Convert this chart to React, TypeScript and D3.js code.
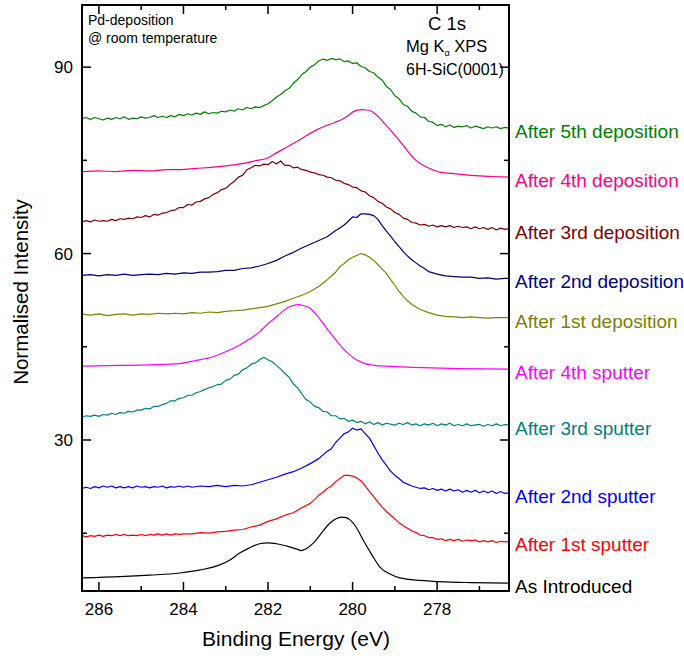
import React from "react";
import * as d3 from "d3";

// C 1s XPS spectra: [binding energy (eV), normalised intensity] per stage
const asIntroduced: [number, number][] = [[286.38,7.8],[285.5,8.0],[284.8,8.25],[284.09,8.6],[283.6,9.1],[283.14,9.9],[282.9,10.7],[282.67,11.8],[282.45,12.6],[282.2,13.3],[282.0,13.45],[281.8,13.3],[281.49,12.8],[281.3,12.4],[281.21,12.2],[281.1,12.5],[280.93,13.4],[280.75,14.9],[280.54,16.6],[280.4,17.3],[280.26,17.6],[280.15,17.5],[280.06,17.15],[279.9,15.8],[279.75,13.9],[279.55,11.6],[279.36,9.6],[279.1,8.4],[278.88,7.8],[278.4,7.4],[277.94,7.2],[277.2,7.05],[276.3,6.97]];
const sputter1: [number, number][] = [[286.4,14.6],[286.3,14.4],[286.2,14.6],[286.1,14.5],[286.0,14.7],[285.9,14.5],[285.8,14.7],[285.7,14.6],[285.6,14.8],[285.5,14.6],[285.4,14.8],[285.3,14.6],[285.2,14.7],[285.1,14.6],[285.0,14.8],[284.9,14.6],[284.8,14.8],[284.7,14.7],[284.6,14.9],[284.5,14.7],[284.4,14.9],[284.3,14.7],[284.2,14.9],[284.1,14.8],[284.0,14.9],[283.8,14.9],[283.6,15.1],[283.4,15.0],[283.2,15.2],[283.0,15.3],[282.8,15.5],[282.6,15.6],[282.4,16.0],[282.2,16.3],[282.0,16.9],[281.8,17.3],[281.6,17.9],[281.4,18.3],[281.2,19.1],[281.0,19.8],[280.9,20.4],[280.8,21.1],[280.7,21.6],[280.6,22.2],[280.5,22.6],[280.4,23.3],[280.3,23.8],[280.2,24.3],[280.1,24.3],[280.0,24.2],[279.9,23.9],[279.8,23.4],[279.7,22.6],[279.6,21.7],[279.5,20.9],[279.4,20.0],[279.3,19.2],[279.2,18.5],[279.1,17.9],[279.0,17.3],[278.9,16.7],[278.8,16.2],[278.7,15.8],[278.6,15.4],[278.5,15.1],[278.4,14.7],[278.3,14.6],[278.2,14.3],[278.1,14.3],[278.0,14.0],[277.9,14.1],[277.8,13.8],[277.7,14.0],[277.6,13.8],[277.5,14.0],[277.4,13.7],[277.3,13.9],[277.2,13.8],[277.1,13.9],[277.0,13.6],[276.9,13.8],[276.8,13.6],[276.7,13.8],[276.6,13.5],[276.5,13.7],[276.4,13.6],[276.3,13.7]];
const sputter2: [number, number][] = [[286.4,22.2],[286.3,22.4],[286.2,22.2],[286.1,22.5],[286.0,22.3],[285.9,22.6],[285.8,22.4],[285.7,22.6],[285.6,22.3],[285.5,22.5],[285.4,22.3],[285.3,22.5],[285.2,22.3],[285.1,22.6],[285.0,22.4],[284.9,22.5],[284.8,22.3],[284.7,22.5],[284.6,22.4],[284.5,22.6],[284.4,22.3],[284.3,22.5],[284.2,22.4],[284.1,22.6],[284.0,22.4],[283.9,22.6],[283.8,22.4],[283.6,22.6],[283.4,22.5],[283.2,22.7],[283.0,22.5],[282.8,22.7],[282.6,22.6],[282.4,22.8],[282.2,23.2],[282.0,23.6],[281.8,24.0],[281.6,24.5],[281.4,24.9],[281.2,25.5],[281.0,26.2],[280.8,27.0],[280.6,28.2],[280.5,28.6],[280.4,29.6],[280.3,30.3],[280.2,31.0],[280.1,31.3],[280.0,31.9],[279.9,31.6],[279.8,31.8],[279.7,31.0],[279.6,30.3],[279.5,29.1],[279.4,27.9],[279.3,26.8],[279.2,25.9],[279.1,25.0],[279.0,24.3],[278.9,23.8],[278.8,23.2],[278.7,22.9],[278.6,22.6],[278.5,22.4],[278.4,22.2],[278.3,22.3],[278.2,22.0],[278.1,22.2],[278.0,21.9],[277.9,22.1],[277.8,21.8],[277.7,22.1],[277.6,21.8],[277.5,22.0],[277.4,21.6],[277.3,21.9],[277.2,21.6],[277.1,21.9],[277.0,21.5],[276.9,21.8],[276.8,21.5],[276.7,21.8],[276.6,21.4],[276.5,21.7],[276.4,21.4],[276.3,21.5]];
const sputter3: [number, number][] = [[286.4,33.7],[286.3,33.9],[286.2,33.8],[286.1,34.0],[286.0,33.8],[285.9,34.1],[285.8,34.0],[285.7,34.3],[285.6,34.1],[285.5,34.4],[285.4,34.3],[285.3,34.6],[285.2,34.5],[285.1,34.8],[285.0,34.8],[284.9,35.1],[284.8,35.0],[284.7,35.4],[284.6,35.4],[284.5,35.7],[284.4,35.9],[284.3,36.3],[284.2,36.3],[284.1,36.7],[284.0,36.8],[283.9,37.2],[283.8,37.2],[283.7,37.6],[283.6,37.8],[283.5,38.1],[283.4,38.4],[283.3,38.6],[283.2,38.9],[283.1,39.0],[283.0,39.6],[282.9,39.8],[282.8,40.4],[282.7,40.6],[282.6,41.3],[282.5,41.6],[282.4,42.2],[282.3,42.4],[282.2,42.9],[282.1,43.3],[282.0,42.9],[281.9,42.6],[281.8,42.0],[281.7,41.4],[281.6,40.7],[281.5,40.1],[281.4,39.0],[281.3,38.4],[281.2,37.4],[281.1,36.5],[281.0,36.1],[280.9,35.4],[280.8,35.2],[280.7,34.6],[280.6,34.5],[280.5,33.9],[280.4,33.9],[280.3,33.4],[280.2,33.5],[280.1,33.0],[280.0,33.2],[279.9,32.8],[279.8,33.0],[279.7,32.6],[279.6,32.9],[279.5,32.5],[279.4,32.8],[279.3,32.4],[279.2,32.7],[279.0,32.4],[278.9,32.7],[278.8,32.5],[278.7,32.8],[278.6,32.4],[278.5,32.6],[278.4,32.3],[278.3,32.6],[278.2,32.4],[278.1,32.7],[278.0,32.3],[277.9,32.6],[277.8,32.4],[277.7,32.7],[277.6,32.3],[277.5,32.5],[277.4,32.3],[277.3,32.6],[277.2,32.3],[277.0,32.5],[276.9,32.2],[276.8,32.5],[276.7,32.3],[276.6,32.6],[276.5,32.3],[276.4,32.5],[276.3,32.4]];
const sputter4: [number, number][] = [[286.4,41.9],[285.5,42.0],[284.8,42.1],[284.09,42.3],[283.7,42.8],[283.3,43.4],[283.0,44.2],[282.67,45.3],[282.45,46.2],[282.2,47.4],[282.05,48.4],[281.88,49.4],[281.72,50.3],[281.56,51.2],[281.42,51.6],[281.29,51.8],[281.15,51.6],[281.01,51.2],[280.85,50.1],[280.7,48.8],[280.5,47.0],[280.3,45.3],[280.1,43.9],[279.91,42.9],[279.71,42.3],[279.51,42.06],[279.0,41.8],[278.57,41.7],[277.5,41.5],[276.3,41.4]];
const deposition1: [number, number][] = [[286.4,50.25],[286.2,50.1],[286.0,50.3],[285.8,50.0],[285.6,50.2],[285.4,50.3],[285.2,50.1],[285.0,50.3],[284.8,50.2],[284.6,50.4],[284.4,50.3],[284.2,50.4],[284.0,50.3],[283.8,50.5],[283.6,50.4],[283.4,50.6],[283.2,50.5],[283.0,50.7],[282.8,50.8],[282.6,50.9],[282.4,51.1],[282.2,51.3],[282.0,51.5],[281.8,51.9],[281.6,52.3],[281.4,52.8],[281.2,53.3],[281.0,53.9],[280.8,54.7],[280.6,55.8],[280.5,56.4],[280.4,57.0],[280.3,57.9],[280.2,58.4],[280.1,59.0],[280.0,59.4],[279.9,59.7],[279.8,60.0],[279.7,59.8],[279.6,59.4],[279.5,58.9],[279.4,58.2],[279.3,57.5],[279.2,56.8],[279.1,55.8],[279.0,54.9],[278.9,53.9],[278.8,53.1],[278.7,52.4],[278.6,51.8],[278.5,51.4],[278.4,51.0],[278.2,50.5],[278.0,50.1],[277.8,49.9],[277.6,49.8],[277.4,49.7],[277.2,49.8],[277.0,49.7],[276.8,49.6],[276.6,49.7],[276.4,49.7],[276.3,49.7]];
const deposition2: [number, number][] = [[286.4,56.5],[286.2,56.6],[286.0,56.4],[285.8,56.6],[285.6,56.5],[285.4,56.7],[285.2,56.5],[285.0,56.6],[284.8,56.7],[284.6,56.6],[284.4,56.8],[284.2,56.7],[284.0,56.9],[283.8,56.8],[283.6,57.0],[283.4,57.0],[283.2,57.1],[283.0,57.3],[282.8,57.3],[282.6,57.6],[282.4,57.7],[282.2,58.0],[282.0,58.4],[281.8,58.9],[281.6,59.6],[281.4,60.2],[281.2,60.9],[281.0,61.5],[280.8,62.1],[280.6,62.7],[280.4,63.7],[280.3,64.1],[280.2,64.6],[280.1,65.2],[280.0,65.9],[279.9,65.8],[279.8,66.4],[279.7,66.4],[279.6,66.3],[279.5,66.1],[279.4,65.5],[279.3,64.5],[279.2,63.6],[279.1,62.8],[279.0,61.9],[278.9,61.1],[278.8,60.3],[278.7,59.6],[278.6,59.0],[278.5,58.5],[278.4,58.0],[278.3,57.6],[278.2,57.1],[278.0,56.7],[277.8,56.4],[277.6,56.3],[277.4,56.2],[277.2,56.2],[277.0,56.0],[276.8,56.1],[276.6,55.9],[276.4,56.0],[276.3,56.0]];
const deposition3: [number, number][] = [[286.4,65.1],[286.3,65.3],[286.2,65.1],[286.1,65.4],[286.0,65.2],[285.9,65.3],[285.8,65.2],[285.7,65.5],[285.6,65.3],[285.5,65.6],[285.4,65.5],[285.3,65.7],[285.2,65.6],[285.1,65.9],[285.0,65.8],[284.9,66.1],[284.8,65.9],[284.7,66.3],[284.6,66.2],[284.5,66.5],[284.4,66.6],[284.3,66.9],[284.2,67.0],[284.1,67.4],[284.0,67.4],[283.9,67.9],[283.8,67.8],[283.7,68.3],[283.6,68.4],[283.5,68.8],[283.4,69.0],[283.3,69.5],[283.2,69.8],[283.1,70.3],[283.0,70.5],[282.9,71.1],[282.8,71.6],[282.7,72.3],[282.6,72.6],[282.5,73.5],[282.4,73.8],[282.3,74.2],[282.2,74.1],[282.1,74.4],[282.0,74.3],[281.9,74.8],[281.8,74.4],[281.7,74.9],[281.6,74.2],[281.5,74.2],[281.4,73.8],[281.3,73.9],[281.2,73.5],[281.1,73.4],[281.0,73.1],[280.9,73.0],[280.8,72.7],[280.7,72.6],[280.6,72.3],[280.5,72.2],[280.4,71.8],[280.3,71.7],[280.2,71.3],[280.1,71.1],[280.0,70.7],[279.9,70.6],[279.8,70.1],[279.7,69.9],[279.6,69.3],[279.5,69.0],[279.4,68.4],[279.3,68.1],[279.2,67.5],[279.1,67.2],[279.0,66.6],[278.9,66.3],[278.8,65.7],[278.7,65.5],[278.6,65.0],[278.5,64.9],[278.4,64.6],[278.3,64.7],[278.2,64.4],[278.1,64.6],[278.0,64.3],[277.9,64.5],[277.8,64.3],[277.7,64.5],[277.6,64.2],[277.5,64.4],[277.4,64.2],[277.3,64.3],[277.2,64.0],[277.1,64.3],[277.0,64.0],[276.9,64.2],[276.8,63.9],[276.7,64.2],[276.6,63.8],[276.5,64.1],[276.4,63.9],[276.3,64.0]];
const deposition4: [number, number][] = [[286.4,73.2],[286.0,73.3],[285.6,73.2],[285.2,73.4],[284.8,73.3],[284.4,73.5],[284.09,73.5],[283.7,73.7],[283.3,73.9],[282.9,74.2],[282.51,74.6],[282.25,75.0],[282.04,75.3],[281.8,76.2],[281.56,77.1],[281.3,78.1],[281.09,79.0],[280.85,79.9],[280.62,80.6],[280.42,81.1],[280.22,81.7],[280.1,82.2],[279.99,82.8],[279.79,83.15],[279.65,83.1],[279.55,82.9],[279.42,82.2],[279.28,81.2],[279.12,80.0],[278.96,78.75],[278.8,77.4],[278.65,76.1],[278.5,75.0],[278.33,74.2],[278.15,73.6],[277.94,73.1],[277.65,72.9],[277.38,72.7],[277.0,72.5],[276.7,72.4],[276.3,72.3]];
const deposition5: [number, number][] = [[286.4,81.7],[286.3,81.9],[286.2,81.6],[286.1,81.9],[286.0,81.7],[285.9,81.5],[285.8,81.8],[285.7,81.6],[285.6,81.9],[285.5,81.7],[285.4,82.0],[285.3,81.6],[285.2,81.8],[285.1,81.7],[285.0,82.0],[284.9,81.8],[284.8,81.9],[284.7,82.2],[284.6,81.9],[284.5,82.1],[284.4,81.9],[284.3,82.2],[284.2,82.0],[284.1,82.4],[284.0,82.2],[283.9,82.5],[283.8,82.3],[283.7,82.6],[283.6,82.4],[283.5,82.8],[283.4,82.5],[283.3,82.7],[283.2,82.6],[283.1,82.9],[283.0,82.8],[282.9,83.1],[282.8,82.9],[282.7,83.3],[282.6,83.1],[282.5,83.5],[282.4,83.3],[282.3,83.6],[282.2,83.5],[282.1,83.8],[282.0,84.1],[281.9,84.6],[281.8,85.2],[281.7,85.6],[281.6,86.2],[281.5,86.6],[281.4,87.4],[281.3,88.0],[281.2,88.8],[281.1,89.3],[281.0,90.0],[280.9,90.4],[280.8,91.0],[280.7,91.3],[280.6,91.1],[280.5,91.4],[280.4,91.2],[280.3,91.3],[280.2,90.9],[280.1,91.0],[280.0,90.6],[279.9,90.7],[279.8,90.1],[279.7,89.9],[279.6,89.3],[279.5,89.1],[279.4,88.4],[279.3,87.9],[279.2,86.9],[279.1,86.4],[279.0,85.4],[278.9,84.9],[278.8,84.0],[278.7,83.7],[278.6,82.9],[278.5,82.6],[278.4,82.0],[278.3,81.9],[278.2,81.3],[278.1,81.1],[278.0,80.6],[277.9,80.8],[277.8,80.4],[277.7,80.7],[277.6,80.3],[277.5,80.5],[277.4,80.4],[277.3,80.6],[277.2,80.2],[277.1,80.5],[277.0,80.3],[276.9,80.1],[276.8,80.4],[276.7,80.2],[276.6,80.4],[276.5,80.1],[276.4,80.3],[276.3,80.2]];

const seriesNames = [
  "As Introduced", "After 1st sputter", "After 2nd sputter", "After 3rd sputter", "After 4th sputter",
  "After 1st deposition", "After 2nd deposition", "After 3rd deposition", "After 4th deposition", "After 5th deposition",
];
const seriesData = [asIntroduced, sputter1, sputter2, sputter3, sputter4, deposition1, deposition2, deposition3, deposition4, deposition5];
const seriesColors = ["#000000", "#ff0000", "#0000ff", "#008080", "#ff00ff", "#808000", "#000080", "#800000", "#ff0080", "#008000"];
const smoothSeries = [true, false, false, false, true, false, false, false, true, false];

const xMajorTicks = [286, 284, 282, 280, 278];
const xMinorTicks = [285, 283, 281, 279, 277];
const yMajorTicks = [30, 60, 90];
const yMinorTicks = [15, 45, 75];

const W = 684, H = 656;
const L = 82, R = 509, T = 5, B = 591;
const FONT = "'Liberation Sans', Arial, Helvetica, sans-serif";

export default function App() {
  const x = d3.scaleLinear().domain([286.4, 276.3]).range([L, R]);
  const y = d3.scaleLinear().domain([5.7, 100]).range([B, T]);

  const makeLine = (smooth: boolean) =>
    d3.line<[number, number]>()
      .x((d) => x(d[0]))
      .y((d) => y(d[1]))
      .curve(smooth ? d3.curveMonotoneX : d3.curveLinear);

  const majorLen = 9, minorLen = 5;

  return (
    <svg width={W} height={H} style={{ position: "absolute", left: 0, top: 0, background: "#fff" }} fontFamily={FONT}>
      <defs>
        <clipPath id="plotClip">
          <rect x={L} y={T} width={R - L} height={B - T} />
        </clipPath>
      </defs>

      {/* spectra */}
      <g clipPath="url(#plotClip)" fill="none">
        {seriesData.map((s, i) => (
          <path key={i} d={makeLine(smoothSeries[i])(s) || ""} stroke={seriesColors[i]} strokeWidth={1.2} strokeLinejoin="round" />
        ))}
      </g>

      {/* ticks on all four sides, pointing inward */}
      <g stroke="#000" strokeWidth={1.5}>
        {xMajorTicks.map((t) => (
          <g key={"xM" + t}>
            <line x1={x(t)} x2={x(t)} y1={B} y2={B - majorLen} />
            <line x1={x(t)} x2={x(t)} y1={T} y2={T + majorLen} />
          </g>
        ))}
        {xMinorTicks.map((t) => (
          <g key={"xm" + t}>
            <line x1={x(t)} x2={x(t)} y1={B} y2={B - minorLen} />
            <line x1={x(t)} x2={x(t)} y1={T} y2={T + minorLen} />
          </g>
        ))}
        {yMajorTicks.map((t) => (
          <g key={"yM" + t}>
            <line x1={L} x2={L + majorLen} y1={y(t)} y2={y(t)} />
            <line x1={R} x2={R - majorLen} y1={y(t)} y2={y(t)} />
          </g>
        ))}
        {yMinorTicks.map((t) => (
          <g key={"ym" + t}>
            <line x1={L} x2={L + minorLen} y1={y(t)} y2={y(t)} />
            <line x1={R} x2={R - minorLen} y1={y(t)} y2={y(t)} />
          </g>
        ))}
      </g>

      {/* frame */}
      <rect x={L} y={T} width={R - L} height={B - T} fill="none" stroke="#000" strokeWidth={2} />

      {/* tick labels */}
      <g fontSize={17} fill="#000">
        {xMajorTicks.map((t) => (
          <text key={"xl" + t} x={x(t)} y={615} textAnchor="middle">{t}</text>
        ))}
        {yMajorTicks.map((t) => (
          <text key={"yl" + t} x={73} y={y(t) + 6} textAnchor="end">{t}</text>
        ))}
      </g>

      {/* axis titles */}
      <text x={296} y={646} textAnchor="middle" fontSize={21}>Binding Energy (eV)</text>
      <text transform={`translate(28, ${292}) rotate(-90)`} textAnchor="middle" fontSize={20.5}>Normalised Intensity</text>

      {/* annotations */}
      <text x={88} y={25} fontSize={14}>Pd-deposition</text>
      <text x={88} y={43} fontSize={14}>@ room temperature</text>
      <text x={428} y={30} fontSize={18.5}>C 1s</text>
      <text x={406} y={52} fontSize={16.5}>
        Mg K<tspan fontSize={9} dy={4}>α</tspan><tspan dy={-4}> XPS</tspan>
      </text>
      <text x={406} y={75} fontSize={16}>6H-SiC(0001)</text>

      {/* series labels at the right end of each spectrum */}
      <g fontSize={19}>
        {seriesData.map((s, i) => (
          <text key={"lab" + i} x={515} y={y(s[s.length - 1][1]) + 10} fill={seriesColors[i]}>
            {seriesNames[i]}
          </text>
        ))}
      </g>
    </svg>
  );
}
